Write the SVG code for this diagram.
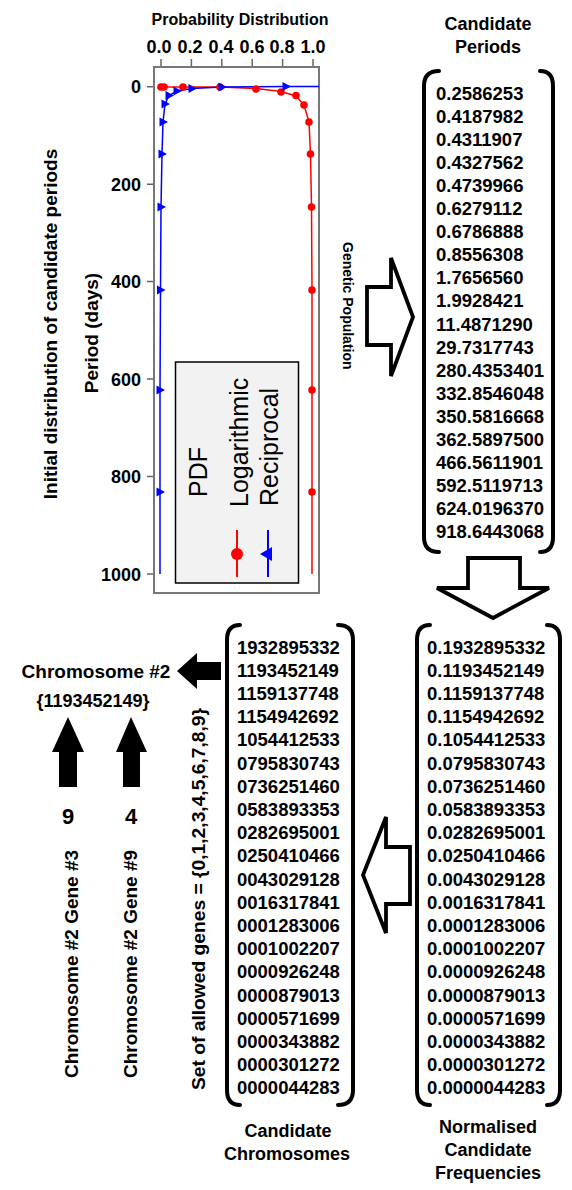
<svg xmlns="http://www.w3.org/2000/svg" xmlns:xlink="http://www.w3.org/1999/xlink" width="572" height="1190" viewBox="0 0 572 1190">
<style>
text{font-family:"Liberation Sans",Arial,sans-serif;fill:#000}
.b{font-weight:bold}
.tick{font-size:18px;font-weight:bold}
.num{font-size:18.5px;font-weight:bold}
.ttl{font-size:18px;font-weight:bold;text-anchor:middle}
.brk{fill:none;stroke:#000;stroke-width:4;stroke-linecap:round}
.blk{fill:#fff;stroke:#000;stroke-width:3.8;stroke-linejoin:miter}
.fill{fill:#000;stroke:none}
.ax{stroke:#666;stroke-width:1.5;fill:none}
.red{stroke:#f00;stroke-width:1.5;fill:none}
.blue{stroke:#00f;stroke-width:1.5;fill:none}
.leg{font-size:25px}
</style>
<defs>
<path id="tri" d="M-3.5,-4.5 L5,0 L-3.5,4.5 Z" fill="#00f"/>
<circle id="dot" r="3.8" fill="#f00"/>
</defs>
<rect width="572" height="1190" fill="#fff"/>

<g id="plot">
<text class="b" x="240" y="25" font-size="16" text-anchor="middle">Probability Distribution</text>
<g class="tick" text-anchor="middle">
<text x="159" y="53">0.0</text><text x="190" y="53">0.2</text><text x="221" y="53">0.4</text><text x="252" y="53">0.6</text><text x="282" y="53">0.8</text><text x="313" y="53">1.0</text>
</g>
<path class="ax" d="M161,59V67M191.4,59V67M221.8,59V67M252.2,59V67M282.6,59V67M313,59V67"/>
<g class="tick" text-anchor="end">
<text x="141" y="93">0</text><text x="141" y="190.5">200</text><text x="141" y="288">400</text><text x="141" y="385.5">600</text><text x="141" y="483">800</text><text x="141" y="580.5">1000</text>
</g>
<path class="ax" d="M147,86.7H154M147,184.2H154M147,281.6H154M147,379.1H154M147,476.5H154M147,574H154"/>
<rect x="154" y="67" width="165" height="526" fill="none" stroke="#777" stroke-width="2"/>
<text class="b" font-size="19" text-anchor="middle" transform="translate(98,333) rotate(-90)">Period (days)</text>
<text class="b" font-size="19" text-anchor="middle" transform="translate(57,324) rotate(-90)">Initial distribution of candidate periods</text>
<path class="red" d="M161,87 L183,87 L220,87 L256,88.5 L281,91.5 L296,96 L304,105 L309,122 L310.5,154 L311.5,207 L312,290 L312,390 L312,492 L312,574"/>
<path class="blue" d="M319,86.5 L286,86.5 L222,87 L192,88.5 L177,91 L169,95.5 L165,104 L163,122 L162,154 L161,207 L160.5,290 L160,390 L160,492 L160,574"/>
<g>
<use href="#dot" x="161" y="87"/><use href="#dot" x="164" y="87"/><use href="#dot" x="183" y="87"/><use href="#dot" x="220" y="87"/><use href="#dot" x="256" y="89"/><use href="#dot" x="281" y="92"/><use href="#dot" x="296" y="95.5"/><use href="#dot" x="304" y="105"/><use href="#dot" x="309" y="122"/><use href="#dot" x="310.5" y="154"/><use href="#dot" x="311.5" y="207"/><use href="#dot" x="312" y="290"/><use href="#dot" x="312" y="390"/><use href="#dot" x="312" y="492"/>
</g>
<g>
<use href="#tri" x="286" y="86.5"/><use href="#tri" x="222" y="87"/><use href="#tri" x="192" y="88.5"/><use href="#tri" x="177" y="91"/><use href="#tri" x="169" y="95.5"/><use href="#tri" x="165" y="104"/><use href="#tri" x="163" y="122"/><use href="#tri" x="162" y="154"/><use href="#tri" x="161" y="207"/><use href="#tri" x="160.5" y="290"/><use href="#tri" x="160" y="390"/><use href="#tri" x="160" y="492"/>
</g>
<g id="legend">
<rect x="175.5" y="362" width="123" height="221" fill="#f2f2f2" stroke="#000" stroke-width="1.5"/>
<text class="leg" transform="translate(207,497) rotate(-90)">PDF</text>
<text class="leg" transform="translate(248,507) rotate(-90)">Logarithmic</text>
<text class="leg" transform="translate(278,506) rotate(-90)">Reciprocal</text>
<path d="M237,530V577" stroke="#f00" stroke-width="2"/>
<circle cx="237" cy="554" r="6" fill="#f00"/>
<path d="M268,530V577" stroke="#00f" stroke-width="2"/>
<path d="M260,554 L272,547 L272,561 Z" fill="#00f"/>
</g>
</g>

<g id="candidate-periods">
<text class="ttl" x="488" y="30">Candidate</text>
<text class="ttl" x="488" y="53">Periods</text>
<path class="brk" d="M439,71 Q424,71 424,86 V537 Q424,552 439,552"/>
<path class="brk" d="M540,71 Q553,71 553,86 V537 Q553,552 540,552"/>
<text class="num">
<tspan x="436" y="99.5">0.2586253</tspan><tspan x="436" y="122.6">0.4187982</tspan><tspan x="436" y="145.7">0.4311907</tspan><tspan x="436" y="168.8">0.4327562</tspan><tspan x="436" y="191.9">0.4739966</tspan><tspan x="436" y="215">0.6279112</tspan><tspan x="436" y="238.1">0.6786888</tspan><tspan x="436" y="261.2">0.8556308</tspan><tspan x="436" y="284.3">1.7656560</tspan><tspan x="436" y="307.4">1.9928421</tspan><tspan x="436" y="330.5">11.4871290</tspan><tspan x="436" y="353.6">29.7317743</tspan><tspan x="436" y="376.7">280.4353401</tspan><tspan x="436" y="399.8">332.8546048</tspan><tspan x="436" y="422.9">350.5816668</tspan><tspan x="436" y="446">362.5897500</tspan><tspan x="436" y="469.1">466.5611901</tspan><tspan x="436" y="492.2">592.5119713</tspan><tspan x="436" y="515.3">624.0196370</tspan><tspan x="436" y="538.4">918.6443068</tspan>
</text>
</g>

<g id="genetic-population-label">
<text class="b" font-size="14" transform="translate(343,242) rotate(90)">Genetic Population</text>
</g>

<g id="normalised-frequencies">
<path class="brk" d="M430,625 Q417,625 417,640 V1090 Q417,1105 430,1105"/>
<path class="brk" d="M547,625 Q560,625 560,640 V1090 Q560,1105 547,1105"/>
<text class="num">
<tspan x="427" y="653.5">0.1932895332</tspan><tspan x="427" y="676.7">0.1193452149</tspan><tspan x="427" y="699.9">0.1159137748</tspan><tspan x="427" y="723.1">0.1154942692</tspan><tspan x="427" y="746.3">0.1054412533</tspan><tspan x="427" y="769.5">0.0795830743</tspan><tspan x="427" y="792.7">0.0736251460</tspan><tspan x="427" y="815.9">0.0583893353</tspan><tspan x="427" y="839.1">0.0282695001</tspan><tspan x="427" y="862.3">0.0250410466</tspan><tspan x="427" y="885.5">0.0043029128</tspan><tspan x="427" y="908.7">0.0016317841</tspan><tspan x="427" y="931.9">0.0001283006</tspan><tspan x="427" y="955.1">0.0001002207</tspan><tspan x="427" y="978.3">0.0000926248</tspan><tspan x="427" y="1001.5">0.0000879013</tspan><tspan x="427" y="1024.7">0.0000571699</tspan><tspan x="427" y="1047.9">0.0000343882</tspan><tspan x="427" y="1071.1">0.0000301272</tspan><tspan x="427" y="1094.3">0.0000044283</tspan>
</text>
<text class="ttl" x="488" y="1133">Normalised</text>
<text class="ttl" x="488" y="1156">Candidate</text>
<text class="ttl" x="488" y="1179">Frequencies</text>
</g>

<g id="candidate-chromosomes">
<path class="brk" d="M240,625 Q227,625 227,640 V1090 Q227,1105 240,1105"/>
<path class="brk" d="M338,625 Q353,625 353,640 V1090 Q353,1105 338,1105"/>
<text class="num">
<tspan x="237" y="653.5">1932895332</tspan><tspan x="237" y="676.7">1193452149</tspan><tspan x="237" y="699.9">1159137748</tspan><tspan x="237" y="723.1">1154942692</tspan><tspan x="237" y="746.3">1054412533</tspan><tspan x="237" y="769.5">0795830743</tspan><tspan x="237" y="792.7">0736251460</tspan><tspan x="237" y="815.9">0583893353</tspan><tspan x="237" y="839.1">0282695001</tspan><tspan x="237" y="862.3">0250410466</tspan><tspan x="237" y="885.5">0043029128</tspan><tspan x="237" y="908.7">0016317841</tspan><tspan x="237" y="931.9">0001283006</tspan><tspan x="237" y="955.1">0001002207</tspan><tspan x="237" y="978.3">0000926248</tspan><tspan x="237" y="1001.5">0000879013</tspan><tspan x="237" y="1024.7">0000571699</tspan><tspan x="237" y="1047.9">0000343882</tspan><tspan x="237" y="1071.1">0000301272</tspan><tspan x="237" y="1094.3">0000044283</tspan>
</text>
<text class="ttl" x="288" y="1137">Candidate</text>
<text class="ttl" x="287" y="1160">Chromosomes</text>
<text class="b" font-size="18" transform="translate(205,1090) rotate(-90)" textLength="382" lengthAdjust="spacingAndGlyphs">Set of allowed genes = {0,1,2,3,4,5,6,7,8,9}</text>
</g>

<g id="chromosome-2">
<text class="ttl" x="96" y="678" style="font-size:19px">Chromosome #2</text>
<text class="ttl" x="93" y="707">{1193452149}</text>
</g>

<g id="gene-3">
<text class="b" font-size="22" text-anchor="middle" x="68" y="824">9</text>
<text class="b" font-size="19" transform="translate(78,1078) rotate(-90)">Chromosome #2 Gene #3</text>
</g>
<g id="gene-9">
<text class="b" font-size="22" text-anchor="middle" x="131" y="824">4</text>
<text class="b" font-size="19" transform="translate(137,1078) rotate(-90)">Chromosome #2 Gene #9</text>
</g>

<g id="connectors">
<path class="blk" d="M367,287 H391 V258 L413,317 L391,376 V345 H367 Z"/>
<path class="blk" d="M468,558 H520 V588 H549 L493,618 L437,588 H468 Z"/>
<path class="blk" d="M410,847 H386 V817 L363,875 L386,933 V904 H410 Z"/>
<path class="fill" d="M177,671 L197,653 V662 H221 V680 H197 V689 Z"/>
<path class="fill" d="M68,717 L84,752 H77 V787 H59 V752 H52 Z"/>
<path class="fill" d="M131,717 L147,752 H140 V787 H123 V752 H116 Z"/>
</g>
</svg>
